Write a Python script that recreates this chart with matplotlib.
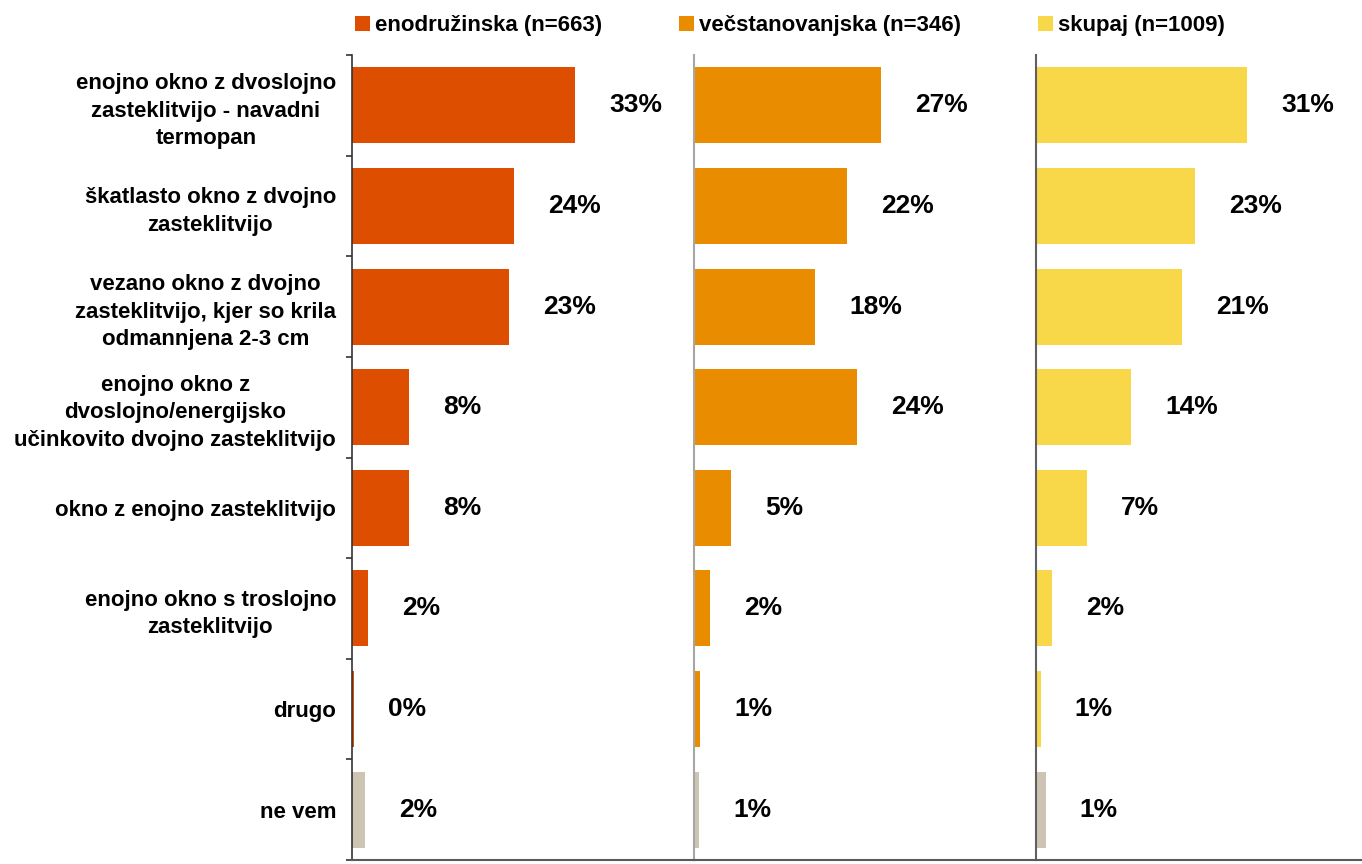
import matplotlib.pyplot as plt
from matplotlib.patches import Patch

plt.rcParams['font.family'] = ['Liberation Sans', 'DejaVu Sans']
plt.rcParams['font.weight'] = 'bold'

categories = [
    "enojno okno z dvoslojno\nzasteklitvijo - navadni\ntermopan",
    "škatlasto okno z dvojno\nzasteklitvijo",
    "vezano okno z dvojno\nzasteklitvijo, kjer so krila\nodmannjena 2-3 cm",
    "enojno okno z\ndvoslojno/energijsko\nučinkovito dvojno zasteklitvijo",
    "okno z enojno zasteklitvijo",
    "enojno okno s troslojno\nzasteklitvijo",
    "drugo",
    "ne vem",
]
series_names = ["enodružinska (n=663)", "večstanovanjska (n=346)", "skupaj (n=1009)"]
enodruzinska = [32.6, 23.7, 23.0, 8.4, 8.4, 2.4, 0.3, 1.9]
vecstanovanjska = [27.4, 22.4, 17.7, 23.8, 5.4, 2.4, 0.9, 0.8]
skupaj = [30.9, 23.3, 21.3, 13.9, 7.4, 2.4, 0.7, 1.4]

colors = ['#DD4E00', '#EA8C00', '#F8D748']
neutral = '#CDC4B3'

fig = plt.figure(figsize=(13.62, 8.64), dpi=100)
W, H = 1362.0, 864.0
lefts = [352, 694, 1036]
bottom = 1 - 860 / H
height = (860 - 55) / H
width = 342 / W

ypos = list(range(len(categories)))
all_series = [enodruzinska, vecstanovanjska, skupaj]
for i, (vals, col) in enumerate(zip(all_series, colors)):
    ax = fig.add_axes([lefts[i] / W, bottom, width, height])
    bar_cols = [col] * (len(vals) - 1) + [neutral]
    ax.barh(ypos, vals, height=0.755, color=bar_cols)
    ax.set_xlim(0, 50)
    ax.set_ylim(len(categories) - 0.5, -0.5)
    for y, v in zip(ypos, vals):
        ax.annotate("%.0f%%" % v, (v, y), xytext=(24.5, 0), textcoords='offset points',
                    ha='left', va='center', fontsize=19, fontweight='bold')
    ax.set_xticks([])
    for s in ['top', 'right']:
        ax.spines[s].set_visible(False)
    ax.spines['bottom'].set_color('#5a5a5a')
    ax.spines['bottom'].set_linewidth(1.5)
    if i == 0:
        ax.set_yticks(ypos)
        ax.set_yticklabels(categories, fontsize=16, fontweight='bold')
        for t in ax.get_yticklabels():
            t.set_multialignment('center')
            t.set_linespacing(1.4)
        ax.tick_params(axis='y', which='major', length=0, pad=11.5)
        ax.set_yticks([y - 0.5 for y in range(len(categories) + 1)], minor=True)
        ax.tick_params(axis='y', which='minor', length=4, width=1.2, color='#333333')
        ax.spines['left'].set_color('#333333')
        ax.spines['left'].set_linewidth(1.2)
    else:
        ax.set_yticks([])
        ax.spines['left'].set_color('#a6a6a6' if i == 1 else '#606060')
        ax.spines['left'].set_linewidth(1.5)

handles = [Patch(facecolor=c, edgecolor='none') for c in colors]
fig.legend(handles, series_names, loc='upper left', bbox_to_anchor=(355 / W, 1 - 15 / H),
           ncol=3, frameon=False, prop={'weight': 'bold', 'size': 16},
           handlelength=0.68, handleheight=0.68, handletextpad=0.23,
           columnspacing=3.45, borderpad=0, borderaxespad=0)

fig.savefig('out.png', dpi=100)
